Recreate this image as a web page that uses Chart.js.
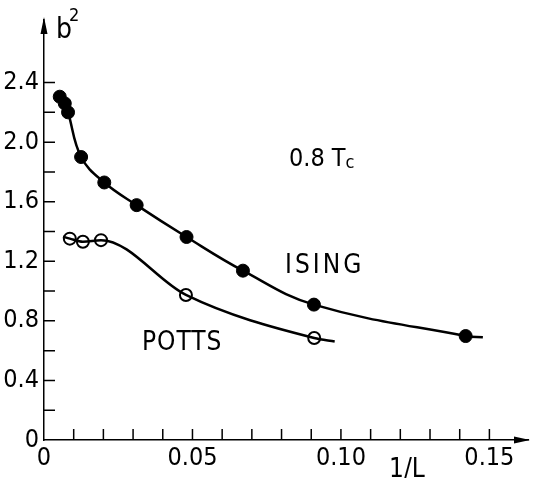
<!DOCTYPE html>
<html>
<head>
<meta charset="utf-8">
<script src="https://cdn.jsdelivr.net/npm/chart.js@4.4.1/dist/chart.umd.min.js"></script>
<style>
  html, body { margin: 0; padding: 0; background: #fff; }
  #wrap { width: 536px; height: 478px; }
</style>
</head>
<body>
<div id="wrap"><canvas id="b2Chart"></canvas></div>
<script>
// values (x = 1/L, y = b^2)
const isingX = [0.0053, 0.0070, 0.0081, 0.0125, 0.0203, 0.0312, 0.0480, 0.0670, 0.0909, 0.1420];
const isingY = [2.305, 2.26, 2.20, 1.90, 1.729, 1.577, 1.363, 1.137, 0.909, 0.698];
const pottsX = [0.0087, 0.0131, 0.0192, 0.0478, 0.0910];
const pottsY = [1.352, 1.331, 1.342, 0.974, 0.685];

// the drawn curves run a little past the outer points
const isingLineX = [...isingX, 0.1478];
const isingLineY = [...isingY, 0.690];
const pottsLineX = [0.0064, ...pottsX, 0.0979];
const pottsLineY = [1.365, ...pottsY, 0.661];

const xLabelValues = [0, 0.05, 0.10, 0.15];
const yLabelValues = [0, 0.4, 0.8, 1.2, 1.6, 2.0, 2.4];

const FONT = "'DejaVu Sans Condensed', 'DejaVu Sans', sans-serif";

function toPoints(xs, ys) {
    return xs.map((x, i) => ({ x: x, y: ys[i] }));
}

// tick marks pointing inward, axis arrows and the text labels
const decorPlugin = {
    id: 'decor',
    afterDraw(chart) {
        const ctx = chart.ctx;
        const xs = chart.scales.x;
        const ys = chart.scales.y;
        const a = chart.chartArea;
        ctx.save();
        ctx.strokeStyle = '#000';
        ctx.fillStyle = '#000';
        ctx.lineWidth = 1.5;

        ctx.beginPath();
        for (let i = 1; i <= 15; i++) {
            const px = xs.getPixelForValue(i / 100);
            ctx.moveTo(px, a.bottom);
            ctx.lineTo(px, a.bottom - 11);
        }
        for (let i = 1; i <= 12; i++) {
            const py = ys.getPixelForValue(i / 5);
            ctx.moveTo(a.left, py);
            ctx.lineTo(a.left + 11, py);
        }
        ctx.stroke();

        // arrow heads
        ctx.beginPath();
        ctx.moveTo(a.left, a.top - 3);
        ctx.lineTo(a.left - 3.5, a.top + 14);
        ctx.lineTo(a.left + 3.5, a.top + 14);
        ctx.closePath();
        ctx.fill();
        ctx.beginPath();
        ctx.moveTo(a.right + 2, a.bottom);
        ctx.lineTo(a.right - 14, a.bottom - 3.5);
        ctx.lineTo(a.right - 14, a.bottom + 3.5);
        ctx.closePath();
        ctx.fill();

        ctx.textBaseline = 'alphabetic';
        ctx.textAlign = 'left';

        // b^2
        ctx.font = '28px ' + FONT;
        ctx.fillText('b', 56, 38);
        ctx.font = '18px ' + FONT;
        ctx.fillText('2', 69, 21);

        // 1/L
        ctx.font = '26px ' + FONT;
        ctx.fillText('1/L', 389, 477);

        // 0.8 Tc
        let px = xs.getPixelForValue(0.0825);
        let py = ys.getPixelForValue(1.84);
        ctx.font = '25px ' + FONT;
        ctx.fillText('0.8 T', px, py);
        const w = ctx.measureText('0.8 T').width;
        ctx.font = '18px ' + FONT;
        ctx.fillText('c', px + w, py + 2);

        // series names
        ctx.font = '26px ' + FONT;
        ctx.letterSpacing = '3px';
        ctx.fillText('ISING', xs.getPixelForValue(0.0812), ys.getPixelForValue(1.122));
        ctx.letterSpacing = '1px';
        ctx.fillText('POTTS', xs.getPixelForValue(0.0330), ys.getPixelForValue(0.605));
        ctx.restore();
    }
};

function renderChart() {
    const ctx = document.getElementById('b2Chart').getContext('2d');
    new Chart(ctx, {
        type: 'scatter',
        data: {
            datasets: [{
                label: 'ISING curve',
                data: toPoints(isingLineX, isingLineY),
                showLine: true,
                tension: 0.4,
                borderColor: '#000',
                borderWidth: 2.5,
                pointRadius: 0
            }, {
                label: 'POTTS curve',
                data: toPoints(pottsLineX, pottsLineY),
                showLine: true,
                cubicInterpolationMode: 'monotone',
                borderColor: '#000',
                borderWidth: 2.5,
                pointRadius: 0
            }, {
                label: 'ISING',
                data: toPoints(isingX, isingY),
                pointRadius: 6.5,
                pointBackgroundColor: '#000',
                pointBorderColor: '#000',
                pointBorderWidth: 1
            }, {
                label: 'POTTS',
                data: toPoints(pottsX, pottsY),
                pointRadius: 6,
                pointBackgroundColor: '#fff',
                pointBorderColor: '#000',
                pointBorderWidth: 2
            }]
        },
        options: {
            responsive: true,
            maintainAspectRatio: false,
            animation: false,
            layout: {
                padding: { top: 8, right: 2, left: 0, bottom: 0 }
            },
            plugins: {
                legend: { display: false },
                tooltip: { enabled: false }
            },
            scales: {
                x: {
                    type: 'linear',
                    min: 0,
                    max: 0.163,
                    afterFit: s => { s.height = 38; },
                    afterBuildTicks: s => { s.ticks = xLabelValues.map(v => ({ value: v })); },
                    grid: { drawOnChartArea: false, drawTicks: false },
                    border: { display: true, color: '#000', width: 1.5 },
                    ticks: {
                        padding: 3,
                        color: '#000',
                        maxRotation: 0,
                        font: { family: FONT, size: 25 },
                        callback: v => v === 0 ? '0' : v.toFixed(2)
                    }
                },
                y: {
                    type: 'linear',
                    min: 0,
                    max: 2.82,
                    afterFit: s => { s.width = 44; },
                    afterBuildTicks: s => { s.ticks = yLabelValues.map(v => ({ value: v })); },
                    grid: { drawOnChartArea: false, drawTicks: false },
                    border: { display: true, color: '#000', width: 1.5 },
                    ticks: {
                        padding: 5,
                        color: '#000',
                        font: { family: FONT, size: 25 },
                        callback: v => v === 0 ? '0' : v.toFixed(1)
                    }
                }
            }
        },
        plugins: [decorPlugin]
    });
}

renderChart();
</script>
</body>
</html>
